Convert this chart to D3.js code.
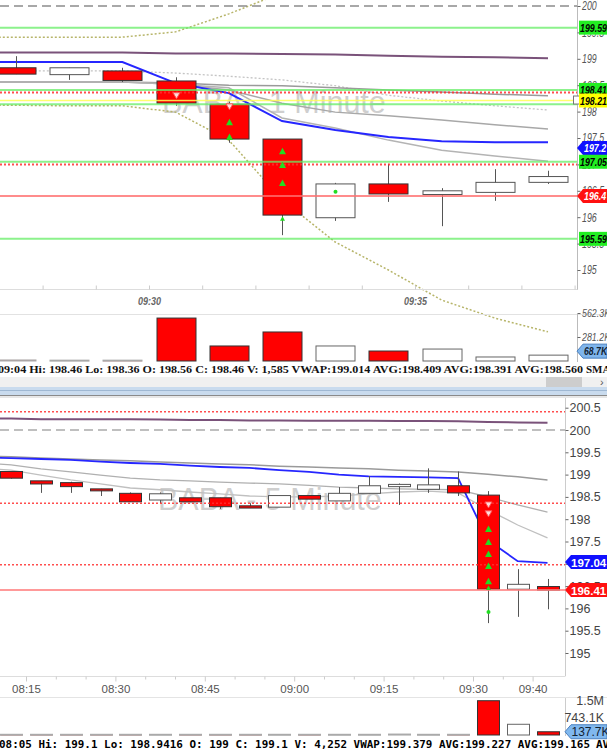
<!DOCTYPE html>
<html><head><meta charset="utf-8">
<script src="https://cdn.jsdelivr.net/npm/d3@7/dist/d3.min.js"></script>
<style>html,body{margin:0;padding:0;background:#fff;overflow:hidden}svg{display:block}</style>
</head><body><svg id="c" width="607" height="750"></svg>
<script>
// ================= DATA =================
// ---- 1-minute panel (time = minutes after 09:00) ----
const m1Times  = [27,28,29,30,31,32,33,34,35,36,37];
const m1Open   = [198.83,198.70,198.77,198.58,198.14,197.48,195.99,196.63,196.43,196.47,196.66];
const m1High   = [199.05,198.83,198.83,198.65,198.19,197.48,196.65,197.01,196.55,196.91,196.88];
const m1Low    = [198.71,198.60,198.56,198.11,197.41,195.66,195.93,196.29,195.83,196.31,196.63];
const m1Close  = [198.71,198.83,198.59,198.16,197.48,196.04,196.63,196.44,196.50,196.66,196.77];
const m1Volume = [12000,10000,10000,503000,176000,340000,176000,117000,140000,47000,68700];
// indicator series start one bar earlier so they reach the left edge
const m1IndTimes = [26,27,28,29,30,31,32,33,34,35,36,37];
const m1Vwap     = [198.94,198.94,198.94,198.94,198.54,198.35,197.82,197.65,197.52,197.44,197.42,197.42];
const m1Purple   = [199.12,199.12,199.12,199.12,199.10,199.10,199.09,199.08,199.06,199.04,199.03,199.01];
const m1AvgA     = [198.56,198.56,198.56,198.56,198.54,198.50,198.49,198.45,198.41,198.37,198.33,198.30];
const m1AvgB     = [198.77,198.77,198.77,198.77,198.73,198.67,198.60,198.49,198.31,198.20,198.11,198.03];
const m1AvgC     = [198.56,198.56,198.56,198.56,198.52,198.41,198.16,197.99,197.92,197.84,197.75,197.67];
const m1AvgD     = [198.56,198.56,198.56,198.56,198.52,198.45,197.88,197.69,197.46,197.27,197.16,197.06];
const m1BandUp   = [199.41,199.41,199.41,199.41,199.51,199.85,200.25,200.75,201.00,201.20,201.30,201.35];
const m1BandLo   = [198.12,198.12,198.11,198.11,197.99,197.46,196.33,195.53,195.00,194.43,194.09,193.83];
// signal markers
const m1MarkTimes  = [30,31,31,31,32,32,32,32,33];
const m1MarkPrices = [198.30,198.09,197.80,197.52,197.25,196.99,196.65,195.97,196.48];
const m1MarkTypes  = ['down','down','up','up','up','up','up','upSmall','dot'];
// horizontal levels
const m1GreenLevels = [199.59,198.41,198.14,197.05,195.59];
const m1RedDotted   = [198.36,197.00];
const m1RedSolid    = [196.40];
const m1Yellow      = [198.21];
const m1Dashed      = [200];
// axis
const m1PriceTicks  = [195,195.5,196,196.5,197,197.5,198,198.5,199,199.5,200];
const m1TimeTicks   = [27,28,29,30,31,32,33,34,35,36,37,38];
const m1TimeLabels  = [30,35];
const m1VolTicks    = [281200,562300];
// price tags
const m1TagPrices = [199.59,198.41,198.21,197.31,197.05,196.40,195.59];
const m1TagTexts  = ['199.59','198.41','198.21','197.2','197.05','196.4','195.59'];
const m1TagFills  = ['#22ee22','#22ee22','#ffff00','#1010ff','#22ee22','#ff1010','#22ee22'];
const m1TagInk    = ['#000','#000','#000','#fff','#000','#fff','#000'];
const m1TagArrow  = [false,false,false,true,false,true,false];
const m1Status = '09:04  Hi: 198.46  Lo: 198.36  O: 198.56  C: 198.46  V: 1,585  VWAP:199.014  AVG:198.409  AVG:198.391  AVG:198.560';

// ---- 5-minute panel ----
const m5Times  = [-50,-45,-40,-35,-30,-25,-20,-15,-10,-5,0,5,10,15,20,25,30,35,40];
const m5Open   = [199.07,198.86,198.82,198.68,198.58,198.43,198.48,198.48,198.30,198.27,198.53,198.41,198.58,198.73,198.67,198.75,198.54,196.43,196.49];
const m5High   = [199.07,198.86,198.84,198.68,198.60,198.60,198.48,198.48,198.36,198.53,198.53,198.72,198.97,198.80,199.14,199.07,198.63,196.88,196.66];
const m5Low    = [198.91,198.59,198.59,198.52,198.39,198.36,198.39,198.23,198.25,198.27,198.45,198.41,198.58,198.32,198.59,198.52,195.67,195.81,195.98];
const m5Close  = [198.92,198.79,198.73,198.64,198.39,198.57,198.39,198.28,198.25,198.53,198.45,198.58,198.75,198.78,198.77,198.59,196.43,196.54,196.41];
const m5Volume = [30000,30000,30000,30000,30000,30000,30000,30000,30000,30000,30000,30000,30000,40000,30000,30000,1456000,455000,137700];
const m5IndTimes = [-55,-50,-45,-40,-35,-30,-25,-20,-15,-10,-5,0,5,10,15,20,25,30,35,40];
const m5Vwap   = [199.38,199.37,199.35,199.33,199.29,199.26,199.24,199.20,199.17,199.15,199.10,199.06,199.00,198.96,198.95,198.94,198.92,197.53,197.06,197.02];
const m5Purple = [200.26,200.26,200.24,200.24,200.24,200.24,200.235,200.224,200.222,200.215,200.213,200.21,200.209,200.206,200.203,200.20,200.195,200.179,200.17,200.164];
const m5AvgA   = [199.41,199.40,199.37,199.35,199.33,199.31,199.28,199.26,199.24,199.22,199.19,199.17,199.15,199.13,199.10,199.08,199.06,199.01,198.95,198.88];
const m5AvgB   = [199.26,199.22,199.13,199.06,198.99,198.92,198.88,198.86,198.83,198.81,198.79,198.76,198.72,198.70,198.68,198.67,198.66,198.50,198.32,198.16];
const m5AvgC   = [199.15,199.10,198.99,198.88,198.79,198.70,198.66,198.61,198.57,198.52,198.50,198.50,198.52,198.57,198.61,198.63,198.59,198.21,197.87,197.58];
const m5MarkTimes  = [30,30,30,30,30,30,30,30,30];
const m5MarkPrices = [198.32,198.12,197.78,197.49,197.22,196.95,196.61,196.46,195.92];
const m5MarkTypes  = ['down','down','up','up','up','up','up','upSmall','dot'];
const m5RedDotted  = [200.41,198.36,196.98];
const m5RedSolid   = [196.41];
const m5Dashed     = [200];
const m5PriceTicks = [195,195.5,196,196.5,197,197.5,198,198.5,199,199.5,200,200.5];
const m5TimeTicks  = [-50,-45,-40,-35,-30,-25,-20,-15,-10,-5,0,5,10,15,20,25,30,35,40];
const m5TimeLabels = [-45,-30,-15,0,15,30,40];
const m5VolTicks   = [743100,1486200];
const m5VolTickTexts = ['743.1K','1.5M'];
const m5TagPrices = [197.04,196.41];
const m5TagTexts  = ['197.04','196.41'];
const m5TagFills  = ['#1010ff','#ff1010'];
const m5Status = '08:05  Hi: 199.1  Lo: 198.9416  O: 199  C: 199.1  V: 4,252  VWAP:199.379  AVG:199.227  AVG:199.165';

// ================= DRAWING =================
const svg = d3.select('#c');
const SANS = "'Liberation Sans', Arial, sans-serif";
const fmtT = m => { const t = 9*60 + m; const h = Math.floor(t/60), mm = t%60; return String(h).padStart(2,'0')+':'+String(mm).padStart(2,'0'); };
const fmtK = v => (v/1000).toFixed(1)+'K';
// narrow (condensed) italic look used by the 1-minute panel labels
function narrow(sel) {
  sel.each(function(){
    const s = this.textContent; let w = 0;
    for (const c of s) w += /[0-9]/.test(c) ? 4.9 : (c==='K'||c==='M') ? 6 : 2.5;
    d3.select(this).attr('textLength', w).attr('lengthAdjust','spacingAndGlyphs');
  });
  return sel;
}

const xT = d3.scaleLinear().domain([30,35]).range([149,415]);
const yT = d3.scaleLinear().domain([195,200]).range([270,6]);
const vT = d3.scaleLinear().domain([0,562300]).range([361,313]);
const xB = d3.scaleLinear().domain([-45,30]).range([26,473]);
const yB = d3.scaleLinear().domain([195,200]).range([653,430]);
const vB = d3.scaleLinear().domain([0,1486200]).range([735,700]);

function hLines(g, levels, ys, x1, x2, stroke, width, dash, op) {
  g.selectAll(null).data(levels).join('line')
    .attr('x1',x1).attr('x2',x2).attr('y1',d=>ys(d)).attr('y2',d=>ys(d))
    .attr('stroke',stroke).attr('stroke-width',width)
    .attr('stroke-dasharray',dash||null).attr('opacity',op||1);
}
function series(g, times, vals, xs, ys, off, stroke, width, dash) {
  const line = d3.line().x((d,i)=>xs(times[i]+off)).y(d=>ys(d));
  g.append('path').datum(vals).attr('d',line).attr('fill','none')
    .attr('stroke',stroke).attr('stroke-width',width).attr('stroke-dasharray',dash||null);
}
function candles(g, t, O, H, L, C, xs, ys, off, hw) {
  const idx = d3.range(t.length);
  const cx = i => Math.round(xs(t[i]+off));
  g.selectAll(null).data(idx).join('line')
    .attr('x1',i=>cx(i)+0.5).attr('x2',i=>cx(i)+0.5)
    .attr('y1',i=>ys(H[i])).attr('y2',i=>ys(L[i]))
    .attr('stroke','#555').attr('stroke-width',1);
  g.selectAll(null).data(idx).join('rect')
    .attr('x',i=>cx(i)-hw+0.5).attr('width',2*hw)
    .attr('y',i=>ys(Math.max(O[i],C[i])))
    .attr('height',i=>Math.max(2,Math.abs(ys(O[i])-ys(C[i]))))
    .attr('fill',i=>C[i]<O[i]?'#ff0000':'#ffffff')
    .attr('stroke',i=>C[i]<O[i]?'#333':'#555').attr('stroke-width',1);
}
function volBars(g, t, V, O, C, xs, vs, off, hw) {
  const idx = d3.range(t.length);
  g.selectAll(null).data(idx).join('rect')
    .attr('x',i=>Math.round(xs(t[i]+off))-hw+0.5).attr('width',2*hw)
    .attr('y',i=>vs(V[i])).attr('height',i=>Math.max(1,vs(0)-vs(V[i])))
    .attr('fill',i=>C[i]<O[i]?'#ff0000':'#ffffff')
    .attr('stroke',i=>(vs(0)-vs(V[i]))<2?'#aaa':(C[i]<O[i]?'#333':'#666'))
    .attr('stroke-width',1);
}
function markers(g, t, P, T, xs, ys, off) {
  const idx = d3.range(t.length);
  g.selectAll(null).data(idx).join('path')
    .attr('transform',i=>`translate(${Math.round(xs(t[i]+off))+0.5},${ys(P[i])})`)
    .attr('d',i=>{
      const ty=T[i];
      if (ty==='down') return 'M-3.5,-3L3.5,-3L0,3Z';
      if (ty==='up') return 'M-3.5,3L3.5,3L0,-3.5Z';
      if (ty==='upSmall') return 'M-2.5,2L2.5,2L0,-2.5Z';
      return 'M-2,0A2,2 0 1,0 2,0A2,2 0 1,0 -2,0Z';
    })
    .attr('fill',i=>T[i]==='down'?'#ffdede':'#22dd22')
    .attr('stroke',i=>T[i]==='down'?'#ff5050':'none').attr('stroke-width',1);
}
function tags(g, P, texts, fills, inks, arrows, ys, x0) {
  P.forEach((p,i)=>{
    const y = ys(p);
    const tip = x0;
    let t;
    if (arrows[i]) {
      g.append('path').attr('d',`M${tip},${y}L${tip+6},${y-7}L607,${y-7}L607,${y+7}L${tip+6},${y+7}Z`)
        .attr('fill',fills[i]);
      t = g.append('text').attr('x',tip+7).attr('y',y+4).text(texts[i]);
    } else {
      g.append('rect').attr('x',tip+2).attr('y',y-7).attr('width',607-tip).attr('height',14).attr('fill',fills[i]);
      t = g.append('text').attr('x',tip+3).attr('y',y+4).text(texts[i]);
    }
    t.attr('font-family',SANS).attr('font-size',11.5).attr('font-weight','bold')
      .attr('font-style','italic').attr('fill',inks[i]);
    narrow(t);
  });
}

// ---------------- TOP (1 minute) ----------------
const gTop = svg.append('g');
gTop.append('text').attr('x',162).attr('y',113).text('BABA - 1 Minute')
  .attr('font-family',SANS).attr('font-size',30.5).attr('fill','#cfcfcf');
series(gTop, m1IndTimes, m1Purple, xT, yT, 0.5, '#7a527a', 2);
series(gTop, m1IndTimes, m1AvgB, xT, yT, 0.5, '#c4c4c4', 1.3, '2,2');
series(gTop, m1IndTimes, m1AvgA, xT, yT, 0.5, '#9a9a9a', 1.5);
series(gTop, m1IndTimes, m1AvgC, xT, yT, 0.5, '#a8a8a8', 1.5);
series(gTop, m1IndTimes, m1AvgD, xT, yT, 0.5, '#b4b4b4', 1.5);
series(gTop, m1IndTimes, m1Vwap, xT, yT, 0.5, '#2626ff', 2);
series(gTop, m1IndTimes, m1BandUp, xT, yT, 0.5, '#b7b56a', 1.5, '2,2');
series(gTop, m1IndTimes, m1BandLo, xT, yT, 0.5, '#b7b56a', 1.5, '2,2');
candles(gTop, m1Times, m1Open, m1High, m1Low, m1Close, xT, yT, 0.5, 19.5);
hLines(gTop, m1Dashed, yT, 0, 577, '#8c8c8c', 1.5, '9,5');
hLines(gTop, m1GreenLevels, yT, 0, 577, '#66ee66', 2, null, 0.75);
hLines(gTop, m1Yellow, yT, 0, 577, '#ffff55', 1.5, null, 0.85);
hLines(gTop, m1RedSolid, yT, 0, 577, '#ff7070', 2, null, 0.8);
hLines(gTop, m1RedDotted, yT, 0, 577, '#ff3030', 2, '2,2', 0.85);
markers(gTop, m1MarkTimes, m1MarkPrices, m1MarkTypes, xT, yT, 0.5);

gTop.append('line').attr('x1',577.5).attr('x2',577.5).attr('y1',0).attr('y2',290).attr('stroke','#bbb');
gTop.append('line').attr('x1',0).attr('x2',577.5).attr('y1',289.5).attr('y2',289.5).attr('stroke','#ddd');
const pyT = gTop.append('g').attr('transform','translate(577.5,0)')
  .call(d3.axisRight(yT).tickValues(m1PriceTicks).tickSize(3).tickPadding(1.5).tickFormat(d=>String(d)));
pyT.select('.domain').remove();
pyT.selectAll('line').attr('stroke','#666');
narrow(pyT.selectAll('text').attr('font-family',SANS).attr('font-size',12).attr('font-style','italic').attr('fill','#555'));
const pxT = gTop.append('g').attr('transform','translate(0,289.5)')
  .call(d3.axisBottom(xT).tickValues(m1TimeTicks).tickSize(-4).tickFormat(d=>m1TimeLabels.includes(d)?fmtT(d):''));
pxT.select('.domain').remove();
pxT.selectAll('line').attr('stroke','#ccc');
pxT.selectAll('text').attr('font-family',SANS).attr('font-size',11).attr('font-style','italic')
  .attr('font-weight','bold').attr('fill','#666').attr('dy',12)
  .each(function(){ if (this.textContent) d3.select(this).attr('textLength',23).attr('lengthAdjust','spacingAndGlyphs'); });
gTop.append('rect').attr('x',573.5).attr('y',yT(198.21)-4.5).attr('width',6).attr('height',8).attr('fill','#fff').attr('stroke','#777');
tags(gTop, m1TagPrices, m1TagTexts, m1TagFills, m1TagInk, m1TagArrow, yT, 577);

gTop.append('line').attr('x1',0).attr('x2',607).attr('y1',314.5).attr('y2',314.5).attr('stroke','#e2e2e2');
gTop.append('line').attr('x1',577.5).attr('x2',577.5).attr('y1',314).attr('y2',362).attr('stroke','#bbb');
volBars(gTop, m1Times, m1Volume, m1Open, m1Close, xT, vT, 0.5, 19.5);
const vyT = gTop.append('g').attr('transform','translate(577.5,0)')
  .call(d3.axisRight(vT).tickValues(m1VolTicks).tickSize(3).tickPadding(1.5).tickFormat(fmtK));
vyT.select('.domain').remove();
vyT.selectAll('line').attr('stroke','#666');
narrow(vyT.selectAll('text').attr('font-family',SANS).attr('font-size',11.5).attr('font-style','italic').attr('fill','#555'));
{
  const v = m1Volume[m1Volume.length-1], y = vT(v)-4;
  gTop.append('path').attr('d',`M577,${y}L583,${y-7}L607,${y-7}L607,${y+7}L583,${y+7}Z`).attr('fill','#7fb5ec').attr('stroke','#4a80c0');
  narrow(gTop.append('text').attr('x',584).attr('y',y+4).text(fmtK(v)).attr('font-family',SANS).attr('font-size',11.5)
    .attr('font-style','italic').attr('font-weight','bold').attr('fill','#123'));
}
gTop.append('text').attr('x',-2).attr('y',373).text(m1Status).attr('textLength',585).attr('lengthAdjust','spacingAndGlyphs')
  .attr('font-family',"'Liberation Serif','Times New Roman',serif").attr('font-size',11).attr('font-weight','bold').attr('fill','#111');
gTop.append('text').attr('x',586).attr('y',373).text('SMA').attr('font-family',"'Liberation Serif',serif").attr('font-size',11).attr('font-weight','bold').attr('fill','#111');

// ------------- window separator -------------
svg.append('rect').attr('x',0).attr('y',377).attr('width',607).attr('height',10).attr('fill','#f0f0f0');
svg.append('rect').attr('x',546).attr('y',377).attr('width',36).attr('height',10).attr('fill','#cdcdcd');
svg.append('text').attr('x',600).attr('y',386).text('›').attr('font-family',SANS).attr('font-size',11).attr('fill','#555');
svg.append('rect').attr('x',0).attr('y',387).attr('width',607).attr('height',8).attr('fill','#c9dbee');
svg.append('line').attr('x1',0).attr('x2',607).attr('y1',390.5).attr('y2',390.5).attr('stroke','#9fb8d3');
svg.append('line').attr('x1',0).attr('x2',607).attr('y1',395.5).attr('y2',395.5).attr('stroke','#8a8a8a');
svg.append('line').attr('x1',0).attr('x2',607).attr('y1',397).attr('y2',397).attr('stroke','#d0d0d0');

// ---------------- BOTTOM (5 minute) ----------------
const gBot = svg.append('g');
gBot.append('text').attr('x',158).attr('y',510).text('BABA - 5 Minute')
  .attr('font-family',SANS).attr('font-size',30.5).attr('fill','#cfcfcf');
series(gBot, m5IndTimes, m5Purple, xB, yB, 2.5, '#7a527a', 2);
series(gBot, m5IndTimes, m5AvgA, xB, yB, 2.5, '#9a9a9a', 1.5);
series(gBot, m5IndTimes, m5AvgB, xB, yB, 2.5, '#b0b0b0', 1.3);
series(gBot, m5IndTimes, m5AvgC, xB, yB, 2.5, '#c0c0c0', 1.3);
series(gBot, m5IndTimes, m5Vwap, xB, yB, 2.5, '#2626ff', 1.8);
candles(gBot, m5Times, m5Open, m5High, m5Low, m5Close, xB, yB, 2.5, 11);
hLines(gBot, m5Dashed, yB, 0, 565, '#aaaaaa', 1.5, '9,5');
hLines(gBot, m5RedSolid, yB, 0, 565, '#ff8080', 2, null, 0.8);
hLines(gBot, m5RedDotted, yB, 0, 565, '#ff3030', 1.5, '2,2', 0.85);
markers(gBot, m5MarkTimes, m5MarkPrices, m5MarkTypes, xB, yB, 2.5);

gBot.append('line').attr('x1',565.5).attr('x2',565.5).attr('y1',398).attr('y2',676).attr('stroke','#ccc');
gBot.append('line').attr('x1',0).attr('x2',565.5).attr('y1',676.5).attr('y2',676.5).attr('stroke','#ddd');
const pyB = gBot.append('g').attr('transform','translate(565.5,0)')
  .call(d3.axisRight(yB).tickValues(m5PriceTicks).tickSize(3).tickPadding(1).tickFormat(d=>String(d)));
pyB.select('.domain').remove();
pyB.selectAll('line').attr('stroke','#666');
pyB.selectAll('text').attr('font-family',SANS).attr('font-size',12.5).attr('fill','#444');
const pxB = gBot.append('g').attr('transform','translate(0,676.5)')
  .call(d3.axisBottom(xB).tickValues(m5TimeTicks).tickSize(3).tickFormat(d=>m5TimeLabels.includes(d)?fmtT(d):''));
pxB.select('.domain').remove();
pxB.selectAll('line').attr('stroke','#ccc');
pxB.selectAll('.tick').filter(d=>m5TimeLabels.includes(d)).select('line').attr('y2',5);
pxB.selectAll('text').attr('font-family',SANS).attr('font-size',11.5).attr('fill','#555').attr('dy',10);
m5TagPrices.forEach((p,i)=>{
  const y = yB(p);
  gBot.append('path').attr('d',`M565,${y}L571,${y-7}L607,${y-7}L607,${y+7}L571,${y+7}Z`).attr('fill',m5TagFills[i]);
  gBot.append('text').attr('x',571).attr('y',y+4.5).text(m5TagTexts[i]).attr('font-family',SANS)
    .attr('font-size',11.5).attr('font-weight','bold').attr('fill','#fff');
});
gBot.append('line').attr('x1',0).attr('x2',607).attr('y1',697.5).attr('y2',697.5).attr('stroke','#e4e4e4');
gBot.append('line').attr('x1',565.5).attr('x2',565.5).attr('y1',698).attr('y2',736).attr('stroke','#ccc');
volBars(gBot, m5Times, m5Volume, m5Open, m5Close, xB, vB, 2.5, 11);
m5VolTicks.forEach((v,i)=>{
  gBot.append('text').attr('x',604).attr('y',vB(v)+4.5).attr('text-anchor','end').text(m5VolTickTexts[i])
    .attr('font-family',SANS).attr('font-size',12.5).attr('fill','#444');
});
{
  const v = m5Volume[m5Volume.length-1], y = vB(v);
  gBot.append('path').attr('d',`M565,${y}L571,${y-7}L607,${y-7}L607,${y+7}L571,${y+7}Z`).attr('fill','#80b8ee').attr('stroke','#4a80c0');
  gBot.append('text').attr('x',571.5).attr('y',y+4.5).text(fmtK(v)).attr('font-family',SANS).attr('font-size',12)
    .attr('fill','#123');
}
gBot.append('text').attr('x',-1).attr('y',748).text(m5Status).attr('textLength',591).attr('lengthAdjust','spacingAndGlyphs')
  .attr('font-family',"'DejaVu Sans Mono',monospace").attr('font-size',11).attr('font-weight','bold').attr('fill','#000');
gBot.append('text').attr('x',596).attr('y',748).text('AVG:199.1').attr('font-family',"'DejaVu Sans Mono',monospace")
  .attr('font-size',11).attr('font-weight','bold').attr('fill','#000');
</script></body></html>
